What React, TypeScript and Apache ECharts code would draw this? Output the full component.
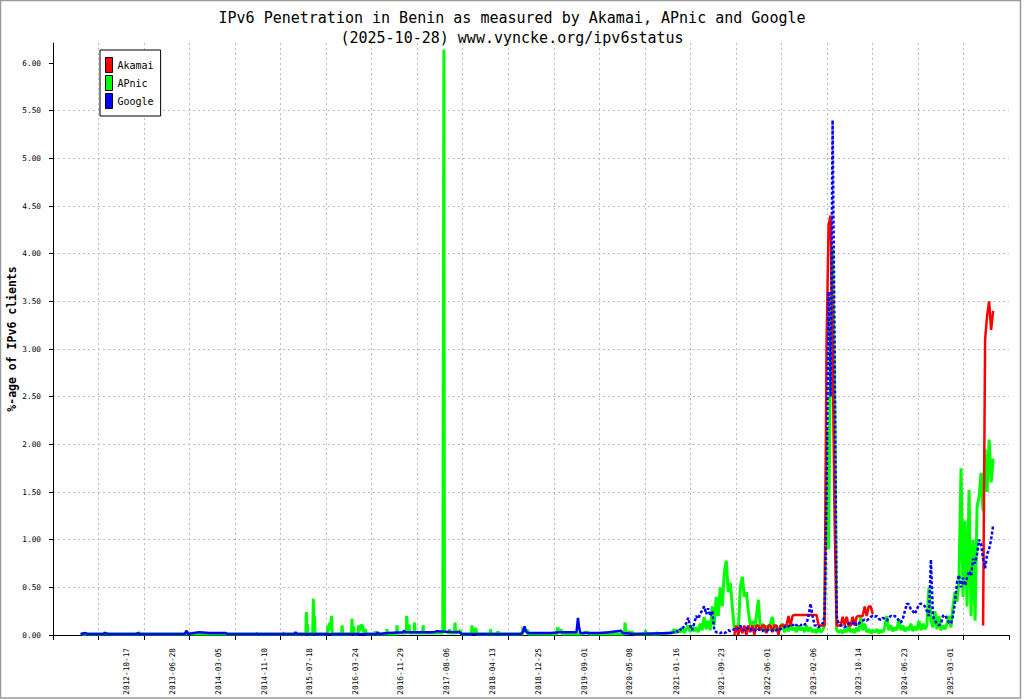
import { useEffect, useRef } from "react";
import * as echarts from "echarts";

const MONO = "'DejaVu Sans Mono', monospace";

const titleLines = [
  "IPv6 Penetration in Benin as measured by Akamai, APnic and Google",
  "(2025-10-28) www.vyncke.org/ipv6status",
];

const xStart = "2011-09-10";
const xEnd = "2026-01-15";

const xLabels = [
  "2012-10-17", "2013-06-28", "2014-03-05", "2014-11-10", "2015-07-18",
  "2016-03-24", "2016-11-29", "2017-08-06", "2018-04-13", "2018-12-25",
  "2019-09-01", "2020-05-08", "2021-01-16", "2021-09-23", "2022-06-01",
  "2023-02-06", "2023-10-14", "2024-06-23", "2025-03-01",
];

const yTicks = [0, 0.5, 1, 1.5, 2, 2.5, 3, 3.5, 4, 4.5, 5, 5.5, 6];

// recent values are sampled every 11 days from recentStart
const recentStart = "2020-12-25";
const stepDays = 11;

const akamaiEarlyA = [["2014-09-28", 0.015], ["2014-10-04", 0.015]];
const akamaiEarlyB = [["2015-02-21", 0.025], ["2015-02-27", 0.02]];
const akamaiMidStart = "2021-12-01";
const akamaiMid = [
  0.0, 0.1, 0.0, 0.1, 0.02, 0.1, 0.0, 0.1, 0.03, 0.1, 0.0, 0.1, 0.1, 0.05, 0.1, 0.1,
  0.02, 0.1, 0.1, 0.03, 0.1, 0.1, 0.0, 0.1, 0.1, 0.1, 0.1, 0.2, 0.1, 0.2, 0.21,
  0.21, 0.21, 0.21, 0.21, 0.21, 0.21, 0.21, 0.21, 0.21, 0.21, 0.21,
  0.1, 0.1, 0.1, 0.1,
  3.05, 4.3, 4.4, 3.0, 1.2, 0.1,
  0.1, 0.1, 0.19, 0.1, 0.19, 0.1, 0.1, 0.19, 0.1, 0.19, 0.2, 0.2, 0.2, 0.3, 0.2, 0.3, 0.3, 0.22,
];
const akamaiLateStart = "2025-08-26";
const akamaiLate = [0.1, 3.1, 3.35, 3.5, 3.2, 3.4];

const apnicEarly = [
  ["2012-02-15", 0.01], ["2012-06-15", 0.01], ["2012-06-20", 0.03], ["2012-06-26", 0.01],
  ["2012-12-20", 0.01], ["2012-12-25", 0.03], ["2012-12-30", 0.01],
  ["2013-09-15", 0.01], ["2013-09-20", 0.03], ["2013-09-28", 0.01],
  ["2015-04-28", 0.01], ["2015-05-02", 0.02], ["2015-05-06", 0.01],
  ["2015-06-27", 0.01], ["2015-06-30", 0.24], ["2015-07-03", 0.08], ["2015-07-06", 0.11], ["2015-07-09", 0.01],
  ["2015-08-04", 0.01], ["2015-08-07", 0.38], ["2015-08-10", 0.15], ["2015-08-14", 0.2], ["2015-08-17", 0.01],
  ["2015-10-23", 0.01], ["2015-10-26", 0.1], ["2015-10-30", 0.04], ["2015-11-04", 0.13], ["2015-11-09", 0.06],
  ["2015-11-15", 0.2], ["2015-11-19", 0.01],
  ["2016-01-09", 0.01], ["2016-01-12", 0.1], ["2016-01-15", 0.01],
  ["2016-03-03", 0.01], ["2016-03-06", 0.17], ["2016-03-10", 0.03], ["2016-03-15", 0.09], ["2016-03-18", 0.01],
  ["2016-04-08", 0.01], ["2016-04-11", 0.1], ["2016-04-16", 0.04], ["2016-04-22", 0.1], ["2016-05-03", 0.1],
  ["2016-05-08", 0.03], ["2016-05-19", 0.06], ["2016-05-23", 0.01],
  ["2016-07-09", 0.01], ["2016-07-12", 0.04], ["2016-07-15", 0.01],
  ["2016-09-11", 0.01], ["2016-09-14", 0.06], ["2016-09-17", 0.01],
  ["2016-11-05", 0.01], ["2016-11-08", 0.1], ["2016-11-11", 0.02],
  ["2016-12-28", 0.02], ["2016-12-31", 0.2], ["2017-01-05", 0.05], ["2017-01-13", 0.11], ["2017-01-17", 0.02],
  ["2017-02-09", 0.02], ["2017-02-12", 0.13], ["2017-02-15", 0.02],
  ["2017-03-28", 0.02], ["2017-03-31", 0.1], ["2017-04-03", 0.02],
  ["2017-07-17", 0.02], ["2017-07-20", 3.05], ["2017-07-23", 6.14], ["2017-07-26", 0.04],
  ["2017-08-20", 0.02], ["2017-08-23", 0.06], ["2017-08-26", 0.02],
  ["2017-09-19", 0.02], ["2017-09-22", 0.13], ["2017-09-25", 0.02],
  ["2017-10-22", 0.05], ["2017-10-26", 0.01],
  ["2017-12-21", 0.01], ["2017-12-24", 0.1], ["2017-12-28", 0.02], ["2018-01-15", 0.07], ["2018-01-19", 0.01],
  ["2018-04-02", 0.01], ["2018-04-05", 0.06], ["2018-04-08", 0.01],
  ["2018-05-13", 0.01], ["2018-05-16", 0.04], ["2018-05-19", 0.01],
  ["2018-09-26", 0.01], ["2018-09-29", 0.08], ["2018-10-05", 0.04], ["2018-10-25", 0.05], ["2018-10-30", 0.01],
  ["2019-04-04", 0.01], ["2019-04-07", 0.08], ["2019-04-15", 0.05], ["2019-04-29", 0.05], ["2019-05-03", 0.01],
  ["2019-08-20", 0.01], ["2019-09-08", 0.03], ["2019-09-20", 0.03], ["2019-09-25", 0.01],
  ["2020-01-03", 0.01], ["2020-01-06", 0.03], ["2020-01-10", 0.01],
  ["2020-04-08", 0.01], ["2020-04-11", 0.13], ["2020-04-15", 0.03], ["2020-05-20", 0.03], ["2020-06-01", 0.01],
  ["2020-07-29", 0.01], ["2020-08-01", 0.05], ["2020-08-04", 0.01],
  ["2020-09-28", 0.01], ["2020-10-01", 0.03], ["2020-10-05", 0.01],
  ["2020-12-10", 0.02],
];
const apnicRecent = [
  0.03, 0.06, 0.02, 0.05, 0.03, 0.08, 0.02, 0.06, 0.1, 0.03, 0.1, 0.04, 0.08, 0.03, 0.12, 0.05, 0.19,
  0.06, 0.15, 0.05, 0.3, 0.1, 0.4, 0.2, 0.5, 0.3, 0.65, 0.78, 0.45, 0.55, 0.3, 0.05, 0.08, 0.03,
  0.5, 0.61, 0.4, 0.45, 0.25, 0.1, 0.15, 0.05, 0.2, 0.37, 0.05, 0.12, 0.03, 0.1, 0.05, 0.12, 0.19,
  0.04, 0.1, 0.03, 0.08, 0.12, 0.03, 0.09, 0.04, 0.1, 0.05, 0.08, 0.03, 0.1, 0.05, 0.08, 0.03, 0.1,
  0.04, 0.08, 0.03, 0.06, 0.02, 0.08, 0.03, 0.05, 0.1,
  2.15, 0.9, 3.2, 4.05, 2.6, 0.05,
  0.03, 0.05, 0.02, 0.06, 0.03, 0.1, 0.03, 0.06, 0.02, 0.08, 0.04, 0.19, 0.05, 0.12, 0.03, 0.06, 0.02, 0.05,
  0.03, 0.06, 0.02, 0.05, 0.03, 0.08, 0.2, 0.05, 0.1, 0.04, 0.08, 0.05, 0.17, 0.05, 0.1, 0.04, 0.08,
  0.05, 0.12, 0.04, 0.09, 0.05, 0.15, 0.05, 0.12, 0.06, 0.1,
  0.5, 0.15, 0.08, 0.25, 0.06, 0.2, 0.05, 0.1, 0.06, 0.12, 0.2, 0.08, 0.3, 0.45, 0.35, 0.6, 1.75,
  0.4, 1.2, 0.3, 1.52, 0.2, 1.0, 0.15, 1.35, 1.45, 1.7, 1.3, 1.95, 1.5, 2.05, 1.6, 1.85,
];

const googleEarly = [
  ["2012-02-08", 0.01], ["2012-03-06", 0.02], ["2012-03-20", 0.01], ["2012-06-10", 0.01],
  ["2012-06-20", 0.02], ["2012-07-10", 0.01], ["2012-12-10", 0.01], ["2012-12-18", 0.02],
  ["2012-12-28", 0.01], ["2013-09-01", 0.01], ["2013-09-10", 0.045], ["2013-09-20", 0.01],
  ["2013-10-20", 0.02], ["2013-11-20", 0.03], ["2014-01-15", 0.02], ["2014-04-15", 0.02],
  ["2014-04-25", 0.01], ["2015-04-25", 0.01], ["2015-05-02", 0.03], ["2015-05-10", 0.01],
  ["2016-07-20", 0.01], ["2016-07-25", 0.03], ["2016-08-01", 0.01], ["2016-09-20", 0.02],
  ["2016-12-10", 0.03], ["2016-12-16", 0.045], ["2016-12-24", 0.03], ["2017-06-01", 0.03],
  ["2017-06-15", 0.04], ["2017-08-01", 0.035], ["2017-10-15", 0.03], ["2017-10-30", 0.01],
  ["2018-09-20", 0.01], ["2018-10-01", 0.04], ["2018-10-08", 0.09], ["2018-10-15", 0.04],
  ["2018-10-25", 0.02], ["2019-03-01", 0.02], ["2019-04-15", 0.03], ["2019-07-20", 0.03],
  ["2019-07-28", 0.18], ["2019-08-03", 0.08], ["2019-08-10", 0.02], ["2019-11-20", 0.02],
  ["2020-01-15", 0.03], ["2020-03-20", 0.045], ["2020-03-30", 0.02], ["2020-06-01", 0.01],
  ["2020-12-20", 0.02],
];
const googleRecent = [
  0.02, 0.03, 0.05, 0.03, 0.06, 0.05, 0.1, 0.12, 0.18, 0.1, 0.05, 0.12, 0.2, 0.17, 0.22, 0.26,
  0.3, 0.22, 0.28, 0.2, 0.25, 0.05, 0.03, 0.03, 0.02, 0.03, 0.02, 0.03, 0.05, 0.04, 0.05,
  0.06, 0.05, 0.07, 0.1, 0.06, 0.05, 0.08, 0.06, 0.05, 0.07,
  0.05, 0.04, 0.06, 0.05, 0.04, 0.06, 0.05, 0.05, 0.04, 0.05, 0.06, 0.05, 0.07, 0.06, 0.08,
  0.08, 0.1, 0.09, 0.11, 0.1, 0.12, 0.1, 0.11, 0.1, 0.12, 0.11,
  0.12, 0.2, 0.33, 0.2, 0.1, 0.1, 0.08, 0.1, 0.12, 0.2,
  1.5, 3.6, 2.5, 5.4, 3.0, 0.2,
  0.12, 0.1, 0.1, 0.08, 0.1, 0.12, 0.13, 0.12, 0.14, 0.1, 0.12, 0.14, 0.15, 0.16, 0.15, 0.17, 0.19, 0.2,
  0.19, 0.2, 0.17, 0.16, 0.18, 0.17, 0.15, 0.18, 0.2, 0.19, 0.2, 0.18, 0.15,
  0.13, 0.17, 0.25, 0.33, 0.32, 0.27, 0.25, 0.22, 0.27, 0.32, 0.33, 0.32, 0.3, 0.25, 0.2,
  0.79, 0.2, 0.15, 0.12, 0.1, 0.12, 0.2, 0.21, 0.17, 0.13, 0.12, 0.2,
  0.35, 0.55, 0.63, 0.5, 0.6, 0.52, 0.6, 0.67, 0.62, 0.8, 0.75, 0.85, 1.0, 0.95, 0.8, 0.7, 0.85,
  0.9, 1.0, 1.15,
];

const DAY = 86400000;
const toTime = (s: string) => new Date(s + "T00:00:00").getTime();

function dated(points: any[]) {
  return points.map(([d, v]) => [toTime(d), v]);
}

function stepped(start: string, values: number[]) {
  const t0 = toTime(start);
  return values.map((v, i) => [t0 + i * stepDays * DAY, v]);
}

function gapAfter(date: string) {
  return [toTime(date) + DAY, "-"];
}

const pad = (n: number) => String(n).padStart(2, "0");
function fmtDate(v: number) {
  const d = new Date(v);
  return `${d.getFullYear()}-${pad(d.getMonth() + 1)}-${pad(d.getDate())}`;
}

export default function App() {
  const ref = useRef<HTMLDivElement | null>(null);

  useEffect(() => {
    if (!ref.current) return;
    const chart = echarts.init(ref.current, null, { renderer: "svg" });

    const xMin = toTime(xStart);
    const xMax = toTime(xEnd);
    const xTicks = Array.from({ length: 22 }, (_, k) => xMin + (k * (xMax - xMin)) / 21);
    const xLabelValues = xLabels.map(toTime);

    const akamaiData = [
      ...dated(akamaiEarlyA),
      gapAfter("2014-10-04"),
      ...dated(akamaiEarlyB),
      gapAfter("2015-02-27"),
      ...stepped(akamaiMidStart, akamaiMid),
      gapAfter("2023-10-20"),
      ...stepped(akamaiLateStart, akamaiLate),
    ];
    const apnicData = [...dated(apnicEarly), ...stepped(recentStart, apnicRecent)];
    const googleRecentData = stepped(recentStart, googleRecent);

    const dashed = { color: "#bdbdbd", type: [2, 3], width: 1 };

    const option: any = {
      animation: false,
      backgroundColor: "#ffffff",
      textStyle: { fontFamily: MONO },
      title: {
        text: titleLines[0],
        subtext: titleLines[1],
        left: "center",
        top: 4,
        itemGap: 2,
        textStyle: { fontFamily: MONO, fontSize: 15, fontWeight: "normal", color: "#000", lineHeight: 18 },
        subtextStyle: { fontFamily: MONO, fontSize: 15, color: "#000", lineHeight: 18 },
      },
      legend: {
        data: ["Akamai", "APnic", "Google"],
        orient: "vertical",
        left: 100,
        top: 50,
        padding: [7, 7, 7, 5],
        itemGap: 2,
        itemWidth: 7,
        itemHeight: 15,
        icon: "rect",
        backgroundColor: "#fff",
        borderColor: "#000",
        borderWidth: 1,
        borderRadius: 0,
        itemStyle: { borderColor: "#000", borderWidth: 1 },
        textStyle: { fontFamily: MONO, fontSize: 10, color: "#000" },
      },
      grid: { left: 53, right: 15, top: 43, bottom: 65, containLabel: false, outerBoundsMode: "none" },
      xAxis: {
        type: "value",
        min: xMin,
        max: xMax,
        axisLine: { onZero: false, lineStyle: { color: "#000", width: 1 } },
        axisTick: { show: true, customValues: xTicks, length: 5, lineStyle: { color: "#000" } },
        axisLabel: {
          customValues: xLabelValues,
          rotate: 90,
          margin: 13,
          fontFamily: MONO,
          fontSize: 7.75,
          color: "#000",
          formatter: (v: number) => fmtDate(v),
        },
        splitLine: { show: true, showMaxLine: false, lineStyle: dashed },
      },
      yAxis: {
        type: "value",
        min: 0,
        max: 6.21,
        name: "%-age of IPv6 clients",
        nameLocation: "middle",
        nameGap: 35,
        nameMoveOverlap: false,
        nameTextStyle: { fontFamily: MONO, fontSize: 11.5, fontWeight: "bold", color: "#000" },
        axisLine: { show: true, lineStyle: { color: "#000", width: 1 } },
        axisTick: { show: true, customValues: yTicks, length: 4, lineStyle: { color: "#000" } },
        axisLabel: {
          customValues: yTicks,
          margin: 12,
          fontFamily: MONO,
          fontSize: 7.75,
          color: "#000",
          formatter: (v: number) => v.toFixed(2),
        },
        splitLine: { show: true, showMaxLine: false, lineStyle: dashed },
      },
      graphic: [
        {
          type: "rect",
          shape: { x: 0.5, y: 0.5, width: 1020, height: 697.5 },
          style: { fill: "none", stroke: "#9a9a9a", lineWidth: 1.5 },
          silent: true,
          z: 100,
        },
      ],
      series: [
        {
          name: "APnic",
          type: "line",
          data: apnicData,
          showSymbol: false,
          symbol: "none",
          z: 2,
          itemStyle: { color: "#00ff00" },
          lineStyle: { color: "#00ff00", width: 3, join: "bevel" },
        },
        {
          name: "Akamai",
          type: "line",
          data: akamaiData,
          showSymbol: false,
          symbol: "none",
          connectNulls: false,
          z: 3,
          itemStyle: { color: "#ff0000" },
          lineStyle: { color: "#ff0000", width: 2.5, join: "bevel" },
        },
        {
          name: "Google",
          type: "line",
          data: [...dated(googleEarly), googleRecentData[0]],
          showSymbol: false,
          symbol: "none",
          z: 4,
          itemStyle: { color: "#0000ff" },
          lineStyle: { color: "#0000ff", width: 2.5, join: "bevel" },
        },
        {
          name: "Google",
          type: "line",
          data: googleRecentData,
          showSymbol: false,
          symbol: "none",
          z: 4,
          itemStyle: { color: "#0000ff" },
          lineStyle: { color: "#0000ff", width: 2.5, type: [3, 2], join: "bevel" },
        },
      ],
    };

    chart.setOption(option);
    return () => chart.dispose();
  }, []);

  return (
    <div
      ref={ref}
      style={{ position: "fixed", left: 0, top: 0, width: 1024, height: 700, background: "#fff" }}
    />
  );
}
